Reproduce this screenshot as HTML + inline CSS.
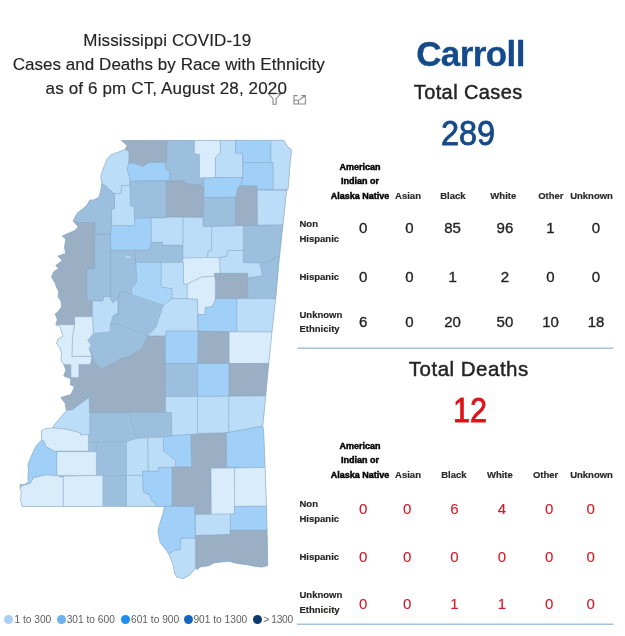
<!DOCTYPE html>
<html><head><meta charset="utf-8"><style>
html,body{margin:0;padding:0;background:#fff;}
body{width:625px;height:636px;position:relative;overflow:hidden;font-family:"Liberation Sans",sans-serif;}
.t{position:absolute;white-space:nowrap;line-height:1;}
</style></head><body>
<svg width="625" height="636" style="position:absolute;left:0;top:0"><polygon points="121.6,140.5 283.7,140.4 287.3,146.3 291.5,149.9 290.1,163.3 288.0,189.5 286.6,190.2 283.9,215.0 282.5,229.2 278.9,263.1 276.1,294.2 275.3,300.0 271.9,332.0 268.7,363.2 265.6,396.0 262.7,426.2 263.5,430.0 265.0,467.4 266.4,506.3 267.0,530.3 267.7,565.6 261.9,567.0 254.7,566.3 247.5,564.8 237.4,563.4 228.8,561.2 220.6,562.0 214.4,562.7 209.1,565.6 200.0,567.0 197.6,569.2 195.4,568.4 189.7,574.9 183.2,578.5 176.7,577.1 174.6,572.8 173.1,564.1 168.8,554.0 165.9,549.7 160.2,542.5 158.0,531.0 160.2,522.4 163.0,513.7 164.5,506.5 22.2,506.4 20.7,500.6 21.4,492.0 20.0,487.7 20.0,484.1 24.3,484.8 28.6,481.9 27.9,477.6 28.6,470.4 27.9,464.6 30.8,457.4 33.7,451.0 35.8,446.6 38.7,443.0 41.6,440.2 41.6,430.8 46.0,428.6 53.0,428.0 54.4,424.9 61.6,416.2 66.6,410.5 65.9,407.6 65.2,403.3 60.9,397.5 71.0,394.6 74.6,386.7 70.2,384.6 71.0,378.8 63.8,375.9 65.9,370.2 63.8,364.4 61.0,360.0 61.7,353.5 60.2,348.5 56.6,343.4 58.1,339.1 63.1,336.2 60.2,326.9 55.9,324.7 57.4,319.7 56.6,317.5 55.2,313.9 58.1,311.8 61.7,306.7 61.0,301.0 58.1,296.6 58.8,291.6 56.6,287.3 55.2,283.0 51.6,277.0 53.5,272.0 58.7,268.5 55.8,265.6 62.3,260.6 58.0,256.2 65.9,253.4 64.5,247.6 65.9,239.0 62.3,236.1 68.8,233.2 75.3,230.3 78.2,226.7 73.1,221.0 77.4,213.0 83.2,208.7 87.5,204.4 89.7,200.1 93.6,200.0 98.6,197.7 100.3,193.2 102.0,183.2 100.9,177.6 101.4,174.2 103.7,167.5 107.0,159.6 110.4,155.2 125.0,149.6 127.2,145.6" fill="#9dbfde" stroke="#8fb0cc" stroke-width="0.6"/><polygon points="121.6,140.5 167.0,140.5 167.0,161.6 164.9,162.4 149.0,162.4 143.0,166.7 133.2,163.1 128.6,163.5 128.9,151.6 125.0,149.6 127.2,145.6" fill="#9aafc3" stroke="#86a6c2" stroke-width="0.5" stroke-opacity="0.8"/><polygon points="125.0,149.6 128.9,151.6 128.6,163.5 127.2,169.6 129.6,176.8 130.0,185.4 121.7,185.7 121.0,193.3 114.5,193.8 102.0,183.2 100.9,177.6 101.4,174.2 103.7,167.5 107.0,159.6 110.4,155.2" fill="#bbddf8" stroke="#86a6c2" stroke-width="0.5" stroke-opacity="0.8"/><polygon points="128.6,163.5 133.2,163.1 143.0,166.7 149.0,162.4 164.9,162.4 166.3,169.6 169.9,170.3 169.9,180.4 130.3,181.1 129.6,176.8 127.2,169.6" fill="#a0d0f7" stroke="#86a6c2" stroke-width="0.5" stroke-opacity="0.8"/><polygon points="130.3,181.1 166.3,181.1 166.3,217.8 150.5,217.8 134.6,218.5 133.9,207.0 130.3,205.6 130.0,185.4" fill="#9dbfde" stroke="#86a6c2" stroke-width="0.5" stroke-opacity="0.8"/><polygon points="121.7,185.7 130.0,185.4 130.3,205.6 133.9,207.0 134.6,218.5 134.5,225.8 111.6,225.8 111.6,209.2 114.5,208.4 114.5,193.8 121.0,193.3" fill="#bbddf8" stroke="#86a6c2" stroke-width="0.5" stroke-opacity="0.8"/><polygon points="102.0,183.2 114.5,193.8 114.5,208.4 111.6,209.2 110.6,234.0 95.4,234.0 94.7,222.8 78.9,222.8 73.1,221.0 77.4,213.0 83.2,208.7 87.5,204.4 89.7,200.1 93.6,200.0 98.6,197.7 100.3,193.2" fill="#9dbfde" stroke="#86a6c2" stroke-width="0.5" stroke-opacity="0.8"/><polygon points="73.1,221.0 78.9,222.8 94.7,222.8 94.7,268.5 87.5,269.2 86.9,270.0 86.9,301.0 92.5,301.0 92.5,316.8 74.6,316.8 74.6,324.7 55.9,324.7 57.4,319.7 56.6,317.5 55.2,313.9 58.1,311.8 61.7,306.7 61.0,301.0 58.1,296.6 58.8,291.6 56.6,287.3 55.2,283.0 51.6,277.0 53.5,272.0 58.7,268.5 55.8,265.6 62.3,260.6 58.0,256.2 65.9,253.4 64.5,247.6 65.9,239.0 62.3,236.1 68.8,233.2 75.3,230.3 78.2,226.7" fill="#9aafc3" stroke="#86a6c2" stroke-width="0.5" stroke-opacity="0.8"/><polygon points="94.7,234.3 110.6,234.3 110.6,296.6 104.2,296.6 102.7,301.0 86.9,301.0 86.9,270.0 87.5,269.2 94.7,268.5" fill="#9dbfde" stroke="#86a6c2" stroke-width="0.5" stroke-opacity="0.8"/><polygon points="167.0,140.5 194.5,140.5 194.5,153.7 199.5,154.4 199.5,177.9 203.8,177.9 203.8,187.0 200.2,184.7 187.3,184.0 184.4,181.1 169.9,180.4 169.9,170.3 166.3,169.6 164.9,162.4 167.0,161.6" fill="#9dbfde" stroke="#86a6c2" stroke-width="0.5" stroke-opacity="0.8"/><polygon points="194.5,140.5 220.4,140.5 220.4,153.0 215.4,157.3 215.4,177.5 199.5,177.9 199.5,154.4 194.5,153.7" fill="#d9ecfb" stroke="#86a6c2" stroke-width="0.5" stroke-opacity="0.8"/><polygon points="220.4,140.5 235.6,140.5 235.6,152.8 242.6,153.6 242.7,177.5 215.4,177.5 215.4,157.3 220.4,153.0" fill="#bbddf8" stroke="#86a6c2" stroke-width="0.5" stroke-opacity="0.8"/><polygon points="235.6,140.4 271.0,140.4 271.0,162.6 243.2,162.6 242.6,153.6 235.6,152.8" fill="#a0d0f7" stroke="#86a6c2" stroke-width="0.5" stroke-opacity="0.8"/><polygon points="271.0,140.4 283.7,140.4 287.3,146.3 291.5,149.9 290.1,163.3 288.0,189.5 273.1,189.5 273.1,162.6 271.0,162.6" fill="#bbddf8" stroke="#86a6c2" stroke-width="0.5" stroke-opacity="0.8"/><polygon points="243.2,162.6 273.1,162.6 273.1,189.5 257.2,189.5 257.0,185.9 240.6,185.9 242.7,177.5" fill="#a0d0f7" stroke="#86a6c2" stroke-width="0.5" stroke-opacity="0.8"/><polygon points="203.8,177.9 242.7,177.5 240.6,185.9 238.5,186.6 235.7,197.4 203.8,197.6" fill="#a0d0f7" stroke="#86a6c2" stroke-width="0.5" stroke-opacity="0.8"/><polygon points="166.3,181.1 184.4,181.1 187.3,184.0 200.2,184.7 203.8,187.0 203.8,217.5 182.8,217.2 166.3,217.2" fill="#9aafc3" stroke="#86a6c2" stroke-width="0.5" stroke-opacity="0.8"/><polygon points="203.8,197.6 235.7,197.4 235.7,225.8 211.6,226.6 203.0,226.6 203.0,217.5" fill="#9dbfde" stroke="#86a6c2" stroke-width="0.5" stroke-opacity="0.8"/><polygon points="238.5,186.6 240.6,185.9 257.0,185.9 257.6,225.3 235.7,225.8 235.7,197.4" fill="#9aafc3" stroke="#86a6c2" stroke-width="0.5" stroke-opacity="0.8"/><polygon points="257.3,190.2 286.6,190.2 283.9,215.0 282.8,224.9 257.6,225.3" fill="#bbddf8" stroke="#86a6c2" stroke-width="0.5" stroke-opacity="0.8"/><polygon points="243.3,225.8 282.8,224.9 279.0,256.0 268.3,262.0 259.8,263.1 243.3,262.6" fill="#9dbfde" stroke="#86a6c2" stroke-width="0.5" stroke-opacity="0.8"/><polygon points="259.8,263.1 268.3,262.0 279.0,256.0 276.1,294.2 275.6,298.5 247.7,298.7 247.6,277.7 262.6,275.8" fill="#9dbfde" stroke="#86a6c2" stroke-width="0.5" stroke-opacity="0.8"/><polygon points="226.8,256.1 227.5,250.6 243.3,250.3 243.3,262.6 259.8,263.1 262.6,275.8 247.6,277.7 247.6,273.4 220.0,273.4 219.6,257.5" fill="#bbddf8" stroke="#86a6c2" stroke-width="0.5" stroke-opacity="0.8"/><polygon points="211.6,226.6 243.3,225.8 243.3,250.3 227.5,250.6 226.8,256.1 219.6,257.5 207.3,257.5 208.0,251.0 211.6,250.3" fill="#bbddf8" stroke="#86a6c2" stroke-width="0.5" stroke-opacity="0.8"/><polygon points="182.8,217.2 203.0,217.5 203.0,226.6 211.6,226.6 211.6,250.3 208.0,251.0 207.3,257.5 182.8,258.2" fill="#bbddf8" stroke="#86a6c2" stroke-width="0.5" stroke-opacity="0.8"/><polygon points="151.1,217.9 166.3,217.9 166.3,217.2 182.8,217.2 182.8,245.3 162.6,245.3 162.6,242.4 151.1,242.4" fill="#bbddf8" stroke="#86a6c2" stroke-width="0.5" stroke-opacity="0.8"/><polygon points="111.6,225.8 134.5,225.8 134.6,218.5 150.5,217.8 151.1,217.9 151.1,242.4 149.6,250.3 110.6,250.3 110.6,234.0" fill="#a0d0f7" stroke="#86a6c2" stroke-width="0.5" stroke-opacity="0.8"/><polygon points="151.1,242.4 162.6,242.4 162.6,245.3 182.8,245.3 182.8,262.6 136.0,262.6 133.8,250.3 149.6,250.3" fill="#9dbfde" stroke="#86a6c2" stroke-width="0.5" stroke-opacity="0.8"/><polygon points="110.6,250.3 133.8,250.3 136.0,262.6 136.7,282.0 131.6,287.8 131.5,294.4 120.2,291.5 117.8,298.8 112.8,303.1 109.2,296.6 110.6,296.6" fill="#9dbfde" stroke="#86a6c2" stroke-width="0.5" stroke-opacity="0.8"/><polygon points="136.0,262.6 161.2,262.6 161.2,287.0 172.0,288.5 172.0,298.7 163.4,305.2 131.5,294.4 131.6,287.8 136.7,282.0" fill="#a8d5f7" stroke="#86a6c2" stroke-width="0.5" stroke-opacity="0.8"/><polygon points="161.2,262.6 183.5,262.6 183.5,283.4 187.5,284.0 187.2,298.7 172.0,298.7 172.0,288.5 161.2,287.0" fill="#bbddf8" stroke="#86a6c2" stroke-width="0.5" stroke-opacity="0.8"/><polygon points="182.8,258.2 207.3,257.5 219.6,257.5 220.0,273.4 214.5,273.4 214.5,276.2 201.6,277.0 187.5,284.0 183.5,283.4 183.5,262.6 182.8,262.6" fill="#d9ecfb" stroke="#86a6c2" stroke-width="0.5" stroke-opacity="0.8"/><polygon points="214.5,273.4 247.6,273.4 247.7,298.7 215.3,298.7 215.3,280.0 214.5,276.2" fill="#9aafc3" stroke="#86a6c2" stroke-width="0.5" stroke-opacity="0.8"/><polygon points="187.5,284.0 201.6,277.0 214.5,276.2 215.3,280.0 215.3,300.2 212.4,306.6 205.2,307.4 205.2,314.6 198.0,314.6 197.3,299.4 187.2,298.7" fill="#d9ecfb" stroke="#86a6c2" stroke-width="0.5" stroke-opacity="0.8"/><polygon points="163.4,305.2 172.0,298.7 187.2,298.7 197.3,299.4 198.0,331.1 166.2,331.1 166.2,336.1 147.5,336.1 156.2,326.8 160.5,313.8" fill="#bbddf8" stroke="#86a6c2" stroke-width="0.5" stroke-opacity="0.8"/><polygon points="215.3,298.7 236.9,298.7 236.9,331.8 198.0,331.1 198.0,314.6 205.2,314.6 205.2,307.4 212.4,306.6 215.3,300.2" fill="#a0d0f7" stroke="#86a6c2" stroke-width="0.5" stroke-opacity="0.8"/><polygon points="236.9,298.7 275.6,298.5 271.9,332.0 236.9,331.8" fill="#bbddf8" stroke="#86a6c2" stroke-width="0.5" stroke-opacity="0.8"/><polygon points="229.0,331.8 271.9,332.0 268.7,363.4 229.0,363.6" fill="#d9ecfb" stroke="#86a6c2" stroke-width="0.5" stroke-opacity="0.8"/><polygon points="198.0,331.1 229.0,331.8 229.0,363.6 197.5,363.6" fill="#9aafc3" stroke="#86a6c2" stroke-width="0.5" stroke-opacity="0.8"/><polygon points="166.2,331.1 198.0,331.1 197.5,363.6 165.3,363.6 165.0,336.1 166.2,336.1" fill="#a0d0f7" stroke="#86a6c2" stroke-width="0.5" stroke-opacity="0.8"/><polygon points="92.5,301.0 102.7,301.0 104.2,296.6 109.2,296.6 112.8,303.1 117.8,298.8 117.8,313.2 112.8,316.1 110.6,324.0 109.9,331.9 93.4,333.4 92.5,316.8" fill="#bbddf8" stroke="#86a6c2" stroke-width="0.5" stroke-opacity="0.8"/><polygon points="147.5,336.1 165.0,336.1 165.3,363.6 165.6,396.5 165.6,412.3 89.7,412.6 89.0,397.5 72.4,409.8 66.6,410.5 65.9,407.6 65.2,403.3 60.9,397.5 71.0,394.6 74.6,386.7 70.2,384.6 71.0,378.8 63.8,375.9 65.9,370.2 63.8,364.4 61.5,358.0 90.4,350.0 94.7,363.0 101.9,368.7 110.6,364.4 120.6,358.6 130.0,355.8 141.8,348.4" fill="#9aafc3" stroke="#86a6c2" stroke-width="0.5" stroke-opacity="0.8"/><polygon points="74.6,316.8 92.5,316.8 93.4,333.4 87.6,340.6 91.2,344.9 89.0,348.5 91.9,356.4 71.8,356.4 72.5,336.2 74.6,324.7" fill="#d9ecfb" stroke="#86a6c2" stroke-width="0.5" stroke-opacity="0.8"/><polygon points="55.9,324.7 74.6,324.7 72.5,336.2 71.8,356.4 91.9,356.4 90.4,364.4 78.9,364.4 78.9,377.4 71.0,377.4 71.0,364.4 63.8,364.4 61.0,360.0 61.7,353.5 60.2,348.5 56.6,343.4 58.1,339.1 63.1,336.2 60.2,326.9" fill="#d9ecfb" stroke="#86a6c2" stroke-width="0.5" stroke-opacity="0.8"/><polygon points="72.4,409.8 89.0,397.5 89.7,412.6 89.7,436.4 88.4,434.4 80.5,435.1 80.5,433.0 67.5,429.4 53.0,428.0 54.4,424.9 61.6,416.2 66.6,410.5" fill="#bbddf8" stroke="#86a6c2" stroke-width="0.5" stroke-opacity="0.8"/><polygon points="41.6,430.8 46.0,428.6 53.0,428.0 67.5,429.4 80.5,433.0 80.5,435.1 88.4,434.4 88.4,451.0 56.7,451.0 55.3,451.7 45.9,446.6 43.8,440.9 41.6,440.2" fill="#d9ecfb" stroke="#86a6c2" stroke-width="0.5" stroke-opacity="0.8"/><polygon points="165.3,363.6 197.5,363.6 197.5,396.5 165.6,396.5" fill="#9dbfde" stroke="#86a6c2" stroke-width="0.5" stroke-opacity="0.8"/><polygon points="165.6,396.5 197.5,396.5 197.5,434.1 190.7,434.5 172.0,435.8 171.6,412.5 165.6,412.1" fill="#bbddf8" stroke="#86a6c2" stroke-width="0.5" stroke-opacity="0.8"/><polygon points="197.5,363.6 229.0,363.6 229.0,396.2 197.5,396.5" fill="#a0d0f7" stroke="#86a6c2" stroke-width="0.5" stroke-opacity="0.8"/><polygon points="229.0,363.6 268.7,363.4 265.6,396.0 229.0,396.2" fill="#9aafc3" stroke="#86a6c2" stroke-width="0.5" stroke-opacity="0.8"/><polygon points="197.5,396.5 229.0,396.2 228.8,432.8 197.5,433.4" fill="#bbddf8" stroke="#86a6c2" stroke-width="0.5" stroke-opacity="0.8"/><polygon points="229.0,396.2 265.6,396.0 262.7,426.2 226.4,432.8 228.8,432.6" fill="#bbddf8" stroke="#86a6c2" stroke-width="0.5" stroke-opacity="0.8"/><polygon points="190.7,434.5 197.5,434.1 226.4,432.8 226.8,467.4 211.0,468.2 211.3,514.4 195.4,514.4 194.7,506.5 172.0,505.7 172.0,466.8 191.5,466.8" fill="#9aafc3" stroke="#86a6c2" stroke-width="0.5" stroke-opacity="0.8"/><polygon points="163.4,437.3 172.0,435.8 190.7,434.5 191.5,466.8 175.6,466.8 175.6,460.3 163.4,451.0" fill="#a0d0f7" stroke="#86a6c2" stroke-width="0.5" stroke-opacity="0.8"/><polygon points="226.4,432.8 262.7,426.2 263.5,430.0 265.0,467.4 226.8,467.4" fill="#a0d0f7" stroke="#86a6c2" stroke-width="0.5" stroke-opacity="0.8"/><polygon points="211.0,468.2 234.7,468.0 234.6,514.0 211.3,514.4" fill="#d9ecfb" stroke="#86a6c2" stroke-width="0.5" stroke-opacity="0.8"/><polygon points="234.7,468.0 265.0,467.4 266.4,506.3 234.6,506.4" fill="#d9ecfb" stroke="#86a6c2" stroke-width="0.5" stroke-opacity="0.8"/><polygon points="234.6,506.4 266.4,506.3 267.0,530.3 230.2,530.3 230.2,514.0 234.6,514.0" fill="#a0d0f7" stroke="#86a6c2" stroke-width="0.5" stroke-opacity="0.8"/><polygon points="195.4,514.4 230.2,514.0 230.2,534.6 195.4,535.5" fill="#bbddf8" stroke="#86a6c2" stroke-width="0.5" stroke-opacity="0.8"/><polygon points="195.4,535.5 230.2,534.6 230.2,530.3 267.0,530.3 267.7,565.6 261.9,567.0 254.7,566.3 247.5,564.8 237.4,563.4 228.8,561.2 220.6,562.0 214.4,562.7 209.1,565.6 200.0,567.0 197.6,569.2 195.4,568.4" fill="#9aafc3" stroke="#86a6c2" stroke-width="0.5" stroke-opacity="0.8"/><polygon points="164.5,506.5 194.7,506.5 195.4,538.2 181.0,538.2 180.3,549.7 174.6,550.4 168.8,554.0 165.9,549.7 160.2,542.5 158.0,531.0 160.2,522.4 163.0,513.7" fill="#a0d0f7" stroke="#86a6c2" stroke-width="0.5" stroke-opacity="0.8"/><polygon points="181.0,538.2 195.4,538.2 195.4,568.4 189.7,574.9 183.2,578.5 176.7,577.1 174.6,572.8 173.1,564.1 168.8,554.0 174.6,550.4 180.3,549.7" fill="#bbddf8" stroke="#86a6c2" stroke-width="0.5" stroke-opacity="0.8"/><polygon points="158.3,467.5 172.0,466.8 172.0,505.7 164.5,506.5 157.6,506.4 151.1,499.9 149.7,494.9 143.2,492.0 142.5,471.1 158.3,471.1" fill="#a0d0f7" stroke="#86a6c2" stroke-width="0.5" stroke-opacity="0.8"/><polygon points="147.5,437.5 163.4,437.3 163.4,451.0 175.6,460.3 175.6,466.8 158.3,467.5 158.3,471.1 148.2,471.1" fill="#bbddf8" stroke="#86a6c2" stroke-width="0.5" stroke-opacity="0.8"/><polygon points="126.6,441.6 136.7,438.4 147.5,437.8 148.2,471.1 142.5,471.1 142.5,475.4 126.6,475.4" fill="#bbddf8" stroke="#86a6c2" stroke-width="0.5" stroke-opacity="0.8"/><polygon points="126.3,475.4 142.5,475.4 143.2,492.0 149.7,494.9 151.1,499.9 157.6,506.4 126.3,506.4" fill="#bbddf8" stroke="#86a6c2" stroke-width="0.5" stroke-opacity="0.8"/><polygon points="63.2,476.2 102.8,475.4 102.8,506.4 63.2,506.4" fill="#d9ecfb" stroke="#86a6c2" stroke-width="0.5" stroke-opacity="0.8"/><polygon points="20.0,487.7 24.3,484.8 30.1,483.4 33.7,477.6 45.9,474.7 56.7,475.4 61.8,477.6 63.2,476.2 63.2,506.4 22.2,506.4 20.7,500.6 21.4,492.0" fill="#d9ecfb" stroke="#86a6c2" stroke-width="0.5" stroke-opacity="0.8"/><polygon points="56.7,451.7 96.3,451.7 96.3,475.4 56.7,475.4" fill="#d9ecfb" stroke="#86a6c2" stroke-width="0.5" stroke-opacity="0.8"/><polygon points="41.6,440.2 43.8,440.9 45.9,446.6 55.3,451.7 56.7,451.7 56.7,475.4 45.9,474.7 33.7,477.6 30.1,483.4 24.3,484.8 28.6,481.9 27.9,477.6 28.6,470.4 27.9,464.6 30.8,457.4 33.7,451.0 35.8,446.6 38.7,443.0" fill="#a0d0f7" stroke="#86a6c2" stroke-width="0.5" stroke-opacity="0.8"/><polygon points="122.5,259.0 126.5,255.6 132.0,256.4 131.2,258.6 127.0,258.2" fill="#bbddf8" stroke="#86a6c2" stroke-width="0.5" stroke-opacity="0.8"/><polyline points="120.2,291.5 118.7,298.0 118.7,313.8 113.0,316.0 115.8,321.0 110.8,324.6" fill="none" stroke="#86a6c2" stroke-width="0.5" stroke-opacity="0.8"/><polyline points="110.8,324.6 118.0,324.4 131.0,329.0 147.5,336.1" fill="none" stroke="#86a6c2" stroke-width="0.5" stroke-opacity="0.8"/><polyline points="89.7,412.6 129.3,413.3 131.0,420.0 134.6,431.5 136.7,438.4" fill="none" stroke="#86a6c2" stroke-width="0.5" stroke-opacity="0.8"/><polyline points="88.4,442.3 100.0,442.3 126.6,441.6" fill="none" stroke="#86a6c2" stroke-width="0.5" stroke-opacity="0.8"/><polyline points="102.8,475.4 126.3,475.4" fill="none" stroke="#86a6c2" stroke-width="0.5" stroke-opacity="0.8"/><polyline points="126.3,475.4 126.3,506.4" fill="none" stroke="#86a6c2" stroke-width="0.5" stroke-opacity="0.8"/><polyline points="89.7,412.6 89.7,398.0" fill="none" stroke="#86a6c2" stroke-width="0.5" stroke-opacity="0.8"/><polyline points="96.3,442.3 96.3,451.7" fill="none" stroke="#86a6c2" stroke-width="0.5" stroke-opacity="0.8"/><line x1="297.5" y1="348.2" x2="613.5" y2="348.2" stroke="#a5c2d8" stroke-width="1.5"/><line x1="297" y1="624.2" x2="613.5" y2="624.2" stroke="#a5c2d8" stroke-width="1.5"/></svg>
<svg width="625" height="636" style="position:absolute;left:0;top:0" fill="none" stroke="#8a8886" stroke-width="1.1">
<path d="M268.2 93.6 H280.9 L276.1 98.6 V104.2 H273 V98.6 Z"/>
<path d="M297.6 95.6 H294 V104 H305.4 V99.6"/>
<path d="M294 100.3 H298.4 V104"/>
<path d="M299.6 99.8 L305.2 95.6 M301.4 95.6 H305.3 V99"/>
</svg>
<div style="position:absolute;left:4.300000000000001px;top:615.4px;width:9px;height:9px;border-radius:50%;background:#a8d1f3"></div><div style="position:absolute;left:57.3px;top:615.4px;width:9px;height:9px;border-radius:50%;background:#6cb2ec"></div><div style="position:absolute;left:121.3px;top:615.4px;width:9px;height:9px;border-radius:50%;background:#1d8ff0"></div><div style="position:absolute;left:183.8px;top:615.4px;width:9px;height:9px;border-radius:50%;background:#1565c0"></div><div style="position:absolute;left:253.2px;top:615.4px;width:9px;height:9px;border-radius:50%;background:#0c3c6e"></div>
<div class="t" style="left:167.4px;top:32.41px;font-size:17px;color:#252423;font-weight:normal;letter-spacing:0.14px;transform:translateX(-50%);transform-origin:0 0;-webkit-text-stroke:0.15px #252423;">Mississippi COVID-19</div><div class="t" style="left:168.8px;top:56.31px;font-size:17px;color:#252423;font-weight:normal;letter-spacing:0.03px;transform:translateX(-50%);transform-origin:0 0;-webkit-text-stroke:0.15px #252423;">Cases and Deaths by Race with Ethnicity</div><div class="t" style="left:166.3px;top:80.01px;font-size:17px;color:#252423;font-weight:normal;letter-spacing:0.14px;transform:translateX(-50%);transform-origin:0 0;-webkit-text-stroke:0.15px #252423;">as of 6 pm CT, August 28, 2020</div><div class="t" style="left:470.5px;top:36.17px;font-size:35px;color:#144a8a;font-weight:bold;letter-spacing:-0.6px;transform:translateX(-50%);transform-origin:0 0;-webkit-text-stroke:0.3px #144a8a;">Carroll</div><div class="t" style="left:468.2px;top:82.47px;font-size:20px;color:#252423;font-weight:normal;letter-spacing:0.4px;transform:translateX(-50%);transform-origin:0 0;-webkit-text-stroke:0.45px #252423;">Total Cases</div><div class="t" style="left:468.2px;top:115.50px;font-size:34.5px;color:#144a8a;font-weight:normal;letter-spacing:0px;transform:translateX(-50%) scaleX(0.94);transform-origin:50% 0;-webkit-text-stroke:0.8px #144a8a;">289</div><div class="t" style="left:468.8px;top:359.35px;font-size:20.5px;color:#252423;font-weight:normal;letter-spacing:0.5px;transform:translateX(-50%);transform-origin:0 0;-webkit-text-stroke:0.45px #252423;">Total Deaths</div><div class="t" style="left:470px;top:392.95px;font-size:35.5px;color:#e0101a;font-weight:normal;letter-spacing:0px;transform:translateX(-50%) scaleX(0.86);transform-origin:50% 0;-webkit-text-stroke:0.8px #e0101a;">12</div><div class="t" style="left:360px;top:162.68px;font-size:9px;color:#000;font-weight:bold;letter-spacing:0px;transform:translateX(-50%);transform-origin:0 0;-webkit-text-stroke:0.45px #000;">American</div><div class="t" style="left:360px;top:177.18px;font-size:9px;color:#000;font-weight:bold;letter-spacing:0px;transform:translateX(-50%);transform-origin:0 0;-webkit-text-stroke:0.45px #000;">Indian or</div><div class="t" style="left:360px;top:191.88px;font-size:9px;color:#000;font-weight:bold;letter-spacing:0px;transform:translateX(-50%);transform-origin:0 0;-webkit-text-stroke:0.45px #000;">Alaska Native</div><div class="t" style="left:408px;top:191.46px;font-size:9.5px;color:#2b2b2b;font-weight:bold;letter-spacing:0px;transform:translateX(-50%);transform-origin:0 0;-webkit-text-stroke:0.2px #2b2b2b;">Asian</div><div class="t" style="left:452.9px;top:191.46px;font-size:9.5px;color:#2b2b2b;font-weight:bold;letter-spacing:0px;transform:translateX(-50%);transform-origin:0 0;-webkit-text-stroke:0.2px #2b2b2b;">Black</div><div class="t" style="left:503.3px;top:191.46px;font-size:9.5px;color:#2b2b2b;font-weight:bold;letter-spacing:0px;transform:translateX(-50%);transform-origin:0 0;-webkit-text-stroke:0.2px #2b2b2b;">White</div><div class="t" style="left:550.9px;top:191.46px;font-size:9.5px;color:#2b2b2b;font-weight:bold;letter-spacing:0px;transform:translateX(-50%);transform-origin:0 0;-webkit-text-stroke:0.2px #2b2b2b;">Other</div><div class="t" style="left:591.5px;top:191.46px;font-size:9.5px;color:#2b2b2b;font-weight:bold;letter-spacing:0px;transform:translateX(-50%);transform-origin:0 0;-webkit-text-stroke:0.2px #2b2b2b;">Unknown</div><div class="t" style="left:299.5px;top:218.76px;font-size:9.5px;color:#252423;font-weight:bold;letter-spacing:0px;-webkit-text-stroke:0.15px #252423;">Non</div><div class="t" style="left:299.5px;top:233.56px;font-size:9.5px;color:#252423;font-weight:bold;letter-spacing:0px;-webkit-text-stroke:0.15px #252423;">Hispanic</div><div class="t" style="left:299.5px;top:271.56px;font-size:9.5px;color:#252423;font-weight:bold;letter-spacing:0px;-webkit-text-stroke:0.15px #252423;">Hispanic</div><div class="t" style="left:299.5px;top:309.76px;font-size:9.5px;color:#252423;font-weight:bold;letter-spacing:0px;-webkit-text-stroke:0.15px #252423;">Unknown</div><div class="t" style="left:299.5px;top:324.36px;font-size:9.5px;color:#252423;font-weight:bold;letter-spacing:0px;-webkit-text-stroke:0.15px #252423;">Ethnicity</div><div class="t" style="left:363.1px;top:220.30px;font-size:15px;color:#252423;font-weight:normal;letter-spacing:0px;transform:translateX(-50%);transform-origin:0 0;-webkit-text-stroke:0.35px #252423;">0</div><div class="t" style="left:409.5px;top:220.30px;font-size:15px;color:#252423;font-weight:normal;letter-spacing:0px;transform:translateX(-50%);transform-origin:0 0;-webkit-text-stroke:0.35px #252423;">0</div><div class="t" style="left:452.6px;top:220.30px;font-size:15px;color:#252423;font-weight:normal;letter-spacing:0px;transform:translateX(-50%);transform-origin:0 0;-webkit-text-stroke:0.35px #252423;">85</div><div class="t" style="left:504.9px;top:220.30px;font-size:15px;color:#252423;font-weight:normal;letter-spacing:0px;transform:translateX(-50%);transform-origin:0 0;-webkit-text-stroke:0.35px #252423;">96</div><div class="t" style="left:550.5px;top:220.30px;font-size:15px;color:#252423;font-weight:normal;letter-spacing:0px;transform:translateX(-50%);transform-origin:0 0;-webkit-text-stroke:0.35px #252423;">1</div><div class="t" style="left:596px;top:220.30px;font-size:15px;color:#252423;font-weight:normal;letter-spacing:0px;transform:translateX(-50%);transform-origin:0 0;-webkit-text-stroke:0.35px #252423;">0</div><div class="t" style="left:363.1px;top:269.00px;font-size:15px;color:#252423;font-weight:normal;letter-spacing:0px;transform:translateX(-50%);transform-origin:0 0;-webkit-text-stroke:0.35px #252423;">0</div><div class="t" style="left:409.5px;top:269.00px;font-size:15px;color:#252423;font-weight:normal;letter-spacing:0px;transform:translateX(-50%);transform-origin:0 0;-webkit-text-stroke:0.35px #252423;">0</div><div class="t" style="left:452.6px;top:269.00px;font-size:15px;color:#252423;font-weight:normal;letter-spacing:0px;transform:translateX(-50%);transform-origin:0 0;-webkit-text-stroke:0.35px #252423;">1</div><div class="t" style="left:504.9px;top:269.00px;font-size:15px;color:#252423;font-weight:normal;letter-spacing:0px;transform:translateX(-50%);transform-origin:0 0;-webkit-text-stroke:0.35px #252423;">2</div><div class="t" style="left:550.5px;top:269.00px;font-size:15px;color:#252423;font-weight:normal;letter-spacing:0px;transform:translateX(-50%);transform-origin:0 0;-webkit-text-stroke:0.35px #252423;">0</div><div class="t" style="left:596px;top:269.00px;font-size:15px;color:#252423;font-weight:normal;letter-spacing:0px;transform:translateX(-50%);transform-origin:0 0;-webkit-text-stroke:0.35px #252423;">0</div><div class="t" style="left:363.1px;top:314.30px;font-size:15px;color:#252423;font-weight:normal;letter-spacing:0px;transform:translateX(-50%);transform-origin:0 0;-webkit-text-stroke:0.35px #252423;">6</div><div class="t" style="left:409.5px;top:314.30px;font-size:15px;color:#252423;font-weight:normal;letter-spacing:0px;transform:translateX(-50%);transform-origin:0 0;-webkit-text-stroke:0.35px #252423;">0</div><div class="t" style="left:452.6px;top:314.30px;font-size:15px;color:#252423;font-weight:normal;letter-spacing:0px;transform:translateX(-50%);transform-origin:0 0;-webkit-text-stroke:0.35px #252423;">20</div><div class="t" style="left:504.9px;top:314.30px;font-size:15px;color:#252423;font-weight:normal;letter-spacing:0px;transform:translateX(-50%);transform-origin:0 0;-webkit-text-stroke:0.35px #252423;">50</div><div class="t" style="left:550.5px;top:314.30px;font-size:15px;color:#252423;font-weight:normal;letter-spacing:0px;transform:translateX(-50%);transform-origin:0 0;-webkit-text-stroke:0.35px #252423;">10</div><div class="t" style="left:596px;top:314.30px;font-size:15px;color:#252423;font-weight:normal;letter-spacing:0px;transform:translateX(-50%);transform-origin:0 0;-webkit-text-stroke:0.35px #252423;">18</div><div class="t" style="left:360px;top:441.68px;font-size:9px;color:#000;font-weight:bold;letter-spacing:0px;transform:translateX(-50%);transform-origin:0 0;-webkit-text-stroke:0.45px #000;">American</div><div class="t" style="left:360px;top:456.18px;font-size:9px;color:#000;font-weight:bold;letter-spacing:0px;transform:translateX(-50%);transform-origin:0 0;-webkit-text-stroke:0.45px #000;">Indian or</div><div class="t" style="left:360px;top:470.88px;font-size:9px;color:#000;font-weight:bold;letter-spacing:0px;transform:translateX(-50%);transform-origin:0 0;-webkit-text-stroke:0.45px #000;">Alaska Native</div><div class="t" style="left:408px;top:470.46px;font-size:9.5px;color:#2b2b2b;font-weight:bold;letter-spacing:0px;transform:translateX(-50%);transform-origin:0 0;-webkit-text-stroke:0.2px #2b2b2b;">Asian</div><div class="t" style="left:453.9px;top:470.46px;font-size:9.5px;color:#2b2b2b;font-weight:bold;letter-spacing:0px;transform:translateX(-50%);transform-origin:0 0;-webkit-text-stroke:0.2px #2b2b2b;">Black</div><div class="t" style="left:499.9px;top:470.46px;font-size:9.5px;color:#2b2b2b;font-weight:bold;letter-spacing:0px;transform:translateX(-50%);transform-origin:0 0;-webkit-text-stroke:0.2px #2b2b2b;">White</div><div class="t" style="left:545.6px;top:470.46px;font-size:9.5px;color:#2b2b2b;font-weight:bold;letter-spacing:0px;transform:translateX(-50%);transform-origin:0 0;-webkit-text-stroke:0.2px #2b2b2b;">Other</div><div class="t" style="left:591.5px;top:470.46px;font-size:9.5px;color:#2b2b2b;font-weight:bold;letter-spacing:0px;transform:translateX(-50%);transform-origin:0 0;-webkit-text-stroke:0.2px #2b2b2b;">Unknown</div><div class="t" style="left:299.5px;top:499.06px;font-size:9.5px;color:#252423;font-weight:bold;letter-spacing:0px;-webkit-text-stroke:0.15px #252423;">Non</div><div class="t" style="left:299.5px;top:513.86px;font-size:9.5px;color:#252423;font-weight:bold;letter-spacing:0px;-webkit-text-stroke:0.15px #252423;">Hispanic</div><div class="t" style="left:299.5px;top:551.86px;font-size:9.5px;color:#252423;font-weight:bold;letter-spacing:0px;-webkit-text-stroke:0.15px #252423;">Hispanic</div><div class="t" style="left:299.5px;top:590.06px;font-size:9.5px;color:#252423;font-weight:bold;letter-spacing:0px;-webkit-text-stroke:0.15px #252423;">Unknown</div><div class="t" style="left:299.5px;top:604.66px;font-size:9.5px;color:#252423;font-weight:bold;letter-spacing:0px;-webkit-text-stroke:0.15px #252423;">Ethnicity</div><div class="t" style="left:363.1px;top:501.30px;font-size:15px;color:#cf1f2b;font-weight:normal;letter-spacing:0px;transform:translateX(-50%);transform-origin:0 0;-webkit-text-stroke:0.15px #cf1f2b;">0</div><div class="t" style="left:407.2px;top:501.30px;font-size:15px;color:#cf1f2b;font-weight:normal;letter-spacing:0px;transform:translateX(-50%);transform-origin:0 0;-webkit-text-stroke:0.15px #cf1f2b;">0</div><div class="t" style="left:454.3px;top:501.30px;font-size:15px;color:#cf1f2b;font-weight:normal;letter-spacing:0px;transform:translateX(-50%);transform-origin:0 0;-webkit-text-stroke:0.15px #cf1f2b;">6</div><div class="t" style="left:501.8px;top:501.30px;font-size:15px;color:#cf1f2b;font-weight:normal;letter-spacing:0px;transform:translateX(-50%);transform-origin:0 0;-webkit-text-stroke:0.15px #cf1f2b;">4</div><div class="t" style="left:549.2px;top:501.30px;font-size:15px;color:#cf1f2b;font-weight:normal;letter-spacing:0px;transform:translateX(-50%);transform-origin:0 0;-webkit-text-stroke:0.15px #cf1f2b;">0</div><div class="t" style="left:590.7px;top:501.30px;font-size:15px;color:#cf1f2b;font-weight:normal;letter-spacing:0px;transform:translateX(-50%);transform-origin:0 0;-webkit-text-stroke:0.15px #cf1f2b;">0</div><div class="t" style="left:363.1px;top:548.50px;font-size:15px;color:#cf1f2b;font-weight:normal;letter-spacing:0px;transform:translateX(-50%);transform-origin:0 0;-webkit-text-stroke:0.15px #cf1f2b;">0</div><div class="t" style="left:407.2px;top:548.50px;font-size:15px;color:#cf1f2b;font-weight:normal;letter-spacing:0px;transform:translateX(-50%);transform-origin:0 0;-webkit-text-stroke:0.15px #cf1f2b;">0</div><div class="t" style="left:454.3px;top:548.50px;font-size:15px;color:#cf1f2b;font-weight:normal;letter-spacing:0px;transform:translateX(-50%);transform-origin:0 0;-webkit-text-stroke:0.15px #cf1f2b;">0</div><div class="t" style="left:501.8px;top:548.50px;font-size:15px;color:#cf1f2b;font-weight:normal;letter-spacing:0px;transform:translateX(-50%);transform-origin:0 0;-webkit-text-stroke:0.15px #cf1f2b;">0</div><div class="t" style="left:549.2px;top:548.50px;font-size:15px;color:#cf1f2b;font-weight:normal;letter-spacing:0px;transform:translateX(-50%);transform-origin:0 0;-webkit-text-stroke:0.15px #cf1f2b;">0</div><div class="t" style="left:590.7px;top:548.50px;font-size:15px;color:#cf1f2b;font-weight:normal;letter-spacing:0px;transform:translateX(-50%);transform-origin:0 0;-webkit-text-stroke:0.15px #cf1f2b;">0</div><div class="t" style="left:363.1px;top:596.00px;font-size:15px;color:#cf1f2b;font-weight:normal;letter-spacing:0px;transform:translateX(-50%);transform-origin:0 0;-webkit-text-stroke:0.15px #cf1f2b;">0</div><div class="t" style="left:407.2px;top:596.00px;font-size:15px;color:#cf1f2b;font-weight:normal;letter-spacing:0px;transform:translateX(-50%);transform-origin:0 0;-webkit-text-stroke:0.15px #cf1f2b;">0</div><div class="t" style="left:454.3px;top:596.00px;font-size:15px;color:#cf1f2b;font-weight:normal;letter-spacing:0px;transform:translateX(-50%);transform-origin:0 0;-webkit-text-stroke:0.15px #cf1f2b;">1</div><div class="t" style="left:501.8px;top:596.00px;font-size:15px;color:#cf1f2b;font-weight:normal;letter-spacing:0px;transform:translateX(-50%);transform-origin:0 0;-webkit-text-stroke:0.15px #cf1f2b;">1</div><div class="t" style="left:549.2px;top:596.00px;font-size:15px;color:#cf1f2b;font-weight:normal;letter-spacing:0px;transform:translateX(-50%);transform-origin:0 0;-webkit-text-stroke:0.15px #cf1f2b;">0</div><div class="t" style="left:590.7px;top:596.00px;font-size:15px;color:#cf1f2b;font-weight:normal;letter-spacing:0px;transform:translateX(-50%);transform-origin:0 0;-webkit-text-stroke:0.15px #cf1f2b;">0</div><div class="t" style="left:14.4px;top:614.97px;font-size:10.2px;color:#605e5c;font-weight:normal;letter-spacing:0px;">1 to 300</div><div class="t" style="left:66.7px;top:614.97px;font-size:10.2px;color:#605e5c;font-weight:normal;letter-spacing:0px;">301 to 600</div><div class="t" style="left:131px;top:614.97px;font-size:10.2px;color:#605e5c;font-weight:normal;letter-spacing:0px;">601 to 900</div><div class="t" style="left:193.4px;top:614.97px;font-size:10.2px;color:#605e5c;font-weight:normal;letter-spacing:0px;">901 to 1300</div><div class="t" style="left:263.2px;top:614.97px;font-size:10.2px;color:#605e5c;font-weight:normal;letter-spacing:-0.3px;">&gt; 1300</div>
</body></html>
